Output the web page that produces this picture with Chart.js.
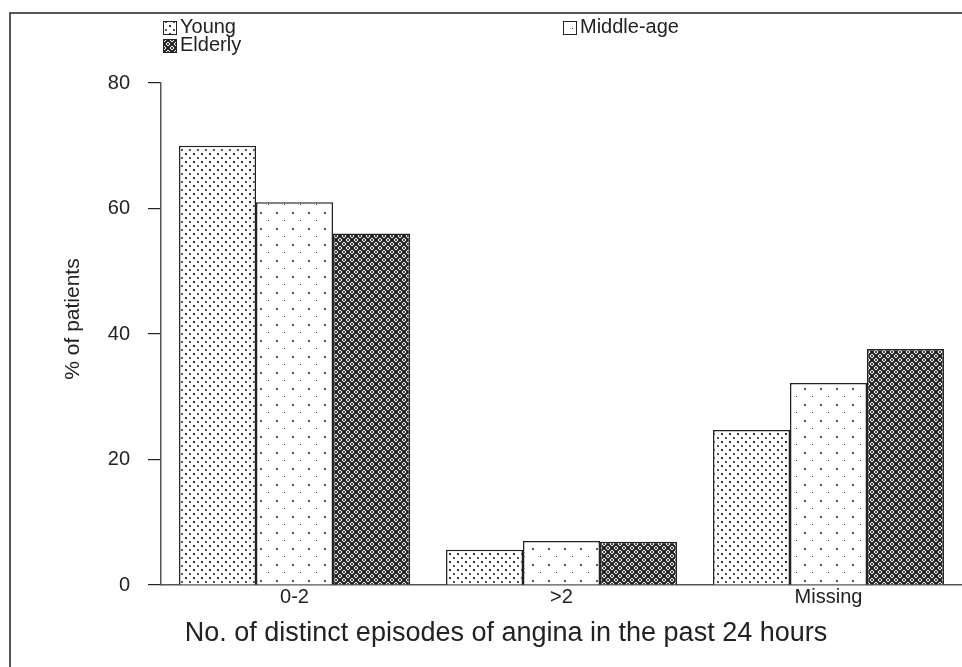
<!DOCTYPE html>
<html>
<head>
<meta charset="utf-8">
<script src="https://cdn.jsdelivr.net/npm/chart.js@4/dist/chart.umd.min.js"></script>
<style>
  html,body{margin:0;padding:0;background:#fff;}
  #wrap{width:962px;height:667px;position:relative;}
</style>
</head>
<body>
<div id="wrap"><canvas id="chart" width="962" height="667"></canvas></div>
<script>
// data
const categories=['0-2','>2','Missing'];
const seriesNames=['Young','Middle-age','Elderly'];
const young=[70,5.6,24.7];
const middleAge=[61,7,32.2];
const elderly=[56,6.9,37.6];
const yTicks=[0,20,40,60,80];
const xTitle='No. of distinct episodes of angina in the past 24 hours';
const yTitle='% of patients';

const FONT='"Liberation Sans", Arial, Helvetica, sans-serif';

function makePattern(kind){
  const c=document.createElement('canvas');
  const g=c.getContext('2d');
  if(kind==='young'){
    c.width=8;c.height=8;
    g.fillStyle='#fff';g.fillRect(0,0,8,8);
    g.fillStyle='#333';g.fillRect(1,1,2,2);
    g.fillStyle='#555';g.fillRect(5,5,2,2);
  }else if(kind==='middle'){
    c.width=16;c.height=16;
    g.fillStyle='#fff';g.fillRect(0,0,16,16);
    g.fillStyle='#555';g.fillRect(4,4,2,2);
    g.fillStyle='#333';g.fillRect(12,12,1,1);
  }else{
    c.width=8;c.height=8;
    g.fillStyle='#fff';g.fillRect(0,0,8,8);
    g.strokeStyle='#1a1a1a';g.lineWidth=2;
    g.beginPath();g.moveTo(0,0);g.lineTo(8,8);g.moveTo(8,0);g.lineTo(0,8);g.stroke();
    g.fillStyle='#444';
    g.fillRect(3,0,2,1);g.fillRect(0,3,1,2);g.fillRect(7,3,1,2);g.fillRect(3,7,2,1);
  }
  return g.createPattern(c,'repeat');
}

const patterns=[makePattern('young'),makePattern('middle'),makePattern('elderly')];

// frame, legend and axis titles
const decor={
  id:'decor',
  afterDraw(chart){
    const ctx=chart.ctx;
    ctx.save();
    ctx.strokeStyle='#222';ctx.lineWidth=1.5;
    ctx.beginPath();ctx.moveTo(10,667);ctx.lineTo(10,13);ctx.lineTo(962,13);ctx.stroke();

    const spots=[[163,27],[563,27],[163,45]];
    ctx.font='20px '+FONT;ctx.textBaseline='middle';ctx.textAlign='left';
    seriesNames.forEach((n,i)=>{
      const [x,y]=spots[i];
      ctx.fillStyle=patterns[i];ctx.fillRect(x,y-6,13,13);
      ctx.strokeStyle='#222';ctx.lineWidth=1;ctx.strokeRect(x+0.5,y-5.5,13,13);
      ctx.fillStyle='#222';ctx.fillText(n,x+17,y);
    });

    ctx.fillStyle='#222';ctx.textAlign='center';ctx.textBaseline='middle';
    ctx.font='27px '+FONT;
    ctx.fillText(xTitle,506,634);

    ctx.translate(73,319);ctx.rotate(-Math.PI/2);
    ctx.font='21px '+FONT;
    ctx.fillText(yTitle,0,0);
    ctx.restore();
  }
};

const datasets=[young,middleAge,elderly].map((d,i)=>({
  label:seriesNames[i],data:d,backgroundColor:patterns[i],
  borderColor:'#222',borderWidth:1.5,
  barPercentage:1,categoryPercentage:0.865
}));

new Chart(document.getElementById('chart'),{
  type:'bar',
  data:{labels:categories,datasets},
  options:{
    responsive:false,animation:false,
    layout:{padding:{top:83,right:0,bottom:0,left:0}},
    plugins:{legend:{display:false},tooltip:{enabled:false}},
    scales:{
      x:{
        grid:{display:false,drawTicks:false},
        border:{display:true,color:'#555',width:1.5},
        ticks:{color:'#222',font:{family:FONT,size:20},padding:0},
        afterFit(s){s.height=82;}
      },
      y:{
        min:0,max:80,
        afterBuildTicks(s){s.ticks=yTicks.map(v=>({value:v}));},
        grid:{drawOnChartArea:false,drawTicks:true,tickLength:13,color:'#222',lineWidth:1.2},
        border:{display:true,color:'#555',width:1.5},
        ticks:{color:'#222',font:{family:FONT,size:20},padding:18},
        afterFit(s){s.width=161;}
      }
    }
  },
  plugins:[decor]
});
</script>
</body>
</html>
